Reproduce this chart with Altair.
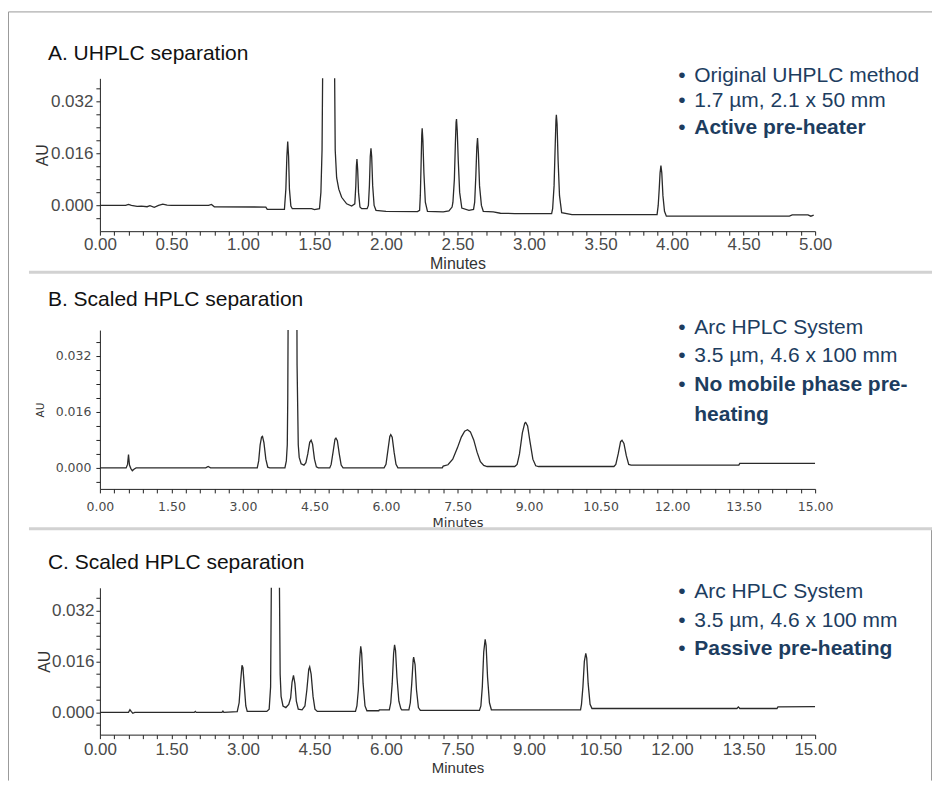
import altair as alt
import pandas as pd

# ---------------- data ----------------
panel_titles = ["A. UHPLC separation", "B. Scaled HPLC separation", "C. Scaled HPLC separation"]

a_notes = ["Original UHPLC method", "1.7 µm, 2.1 x 50 mm"]
a_bold = ["Active pre-heater"]
b_notes = ["Arc HPLC System", "3.5 µm, 4.6 x 100 mm"]
b_bold = ["No mobile phase pre-", "heating"]
c_notes = ["Arc HPLC System", "3.5 µm, 4.6 x 100 mm"]
c_bold = ["Passive pre-heating"]

# (minutes, AU)
a_trace = [
    (0.00, 0.0000), (0.18, 0.0000), (0.20, 0.0003), (0.22, 0.0000), (0.26, -0.0003), (0.29, -0.0002),
    (0.33, -0.0004), (0.35, -0.0001), (0.38, -0.0006), (0.41, 0.0000), (0.44, 0.0004), (0.47, 0.0001),
    (0.50, 0.0000), (0.76, 0.0000), (0.78, 0.0003), (0.80, -0.0004), (1.16, -0.0005), (1.17, -0.0012),
    (1.29, -0.0012), (1.300, 0.005), (1.307, 0.015), (1.313, 0.0196), (1.319, 0.015), (1.325, 0.005),
    (1.335, -0.0002), (1.345, -0.0010), (1.48, -0.0010), (1.50, -0.0013), (1.535, -0.0010),
    (1.545, 0.004), (1.553, 0.017), (1.558, 0.045), (1.60, 0.060), (1.640, 0.045), (1.645, 0.017),
    (1.655, 0.0085), (1.67, 0.0050), (1.69, 0.0025), (1.725, 0.0005), (1.76, -0.0002),
    (1.782, 0.0005), (1.789, 0.006), (1.793, 0.012), (1.797, 0.0142), (1.802, 0.011), (1.808, 0.004),
    (1.818, -0.0005), (1.83, -0.0010), (1.868, -0.0010),
    (1.877, 0.000), (1.884, 0.006), (1.890, 0.015), (1.895, 0.0175), (1.900, 0.015), (1.907, 0.006),
    (1.917, 0.0000), (1.93, -0.0015), (2.00, -0.0018), (2.22, -0.0019), (2.235, -0.0015),
    (2.240, 0.003), (2.245, 0.012), (2.250, 0.0215), (2.253, 0.0237), (2.258, 0.020), (2.265, 0.010),
    (2.275, 0.001), (2.29, -0.0018), (2.40, -0.0020), (2.44, -0.0017), (2.462, -0.0005),
    (2.468, 0.001), (2.478, 0.008), (2.485, 0.019), (2.490, 0.0255), (2.493, 0.0265), (2.498, 0.023),
    (2.505, 0.014), (2.515, 0.004), (2.53, -0.0008), (2.58, -0.0015), (2.612, -0.0012),
    (2.620, 0.001), (2.628, 0.009), (2.635, 0.018), (2.640, 0.0207), (2.646, 0.016), (2.654, 0.006),
    (2.667, 0.000), (2.68, -0.0018), (2.75, -0.0020), (2.80, -0.0024), (2.90, -0.0025), (3.158, -0.0025),
    (3.165, -0.001), (3.175, 0.006), (3.182, 0.017), (3.188, 0.026), (3.191, 0.0278), (3.196, 0.025),
    (3.203, 0.014), (3.213, 0.003), (3.228, -0.0022), (3.30, -0.0028), (3.895, -0.0028),
    (3.903, 0.000), (3.910, 0.005), (3.916, 0.010), (3.922, 0.0122), (3.928, 0.010), (3.936, 0.003),
    (3.947, -0.0018), (3.96, -0.0033), (4.82, -0.0033), (4.84, -0.0029), (4.95, -0.0029),
    (4.97, -0.0033), (4.99, -0.0030),
]

b_trace = [
    (0.00, 0.0000), (0.55, 0.0000), (0.58, 0.0010), (0.60, 0.0038), (0.62, 0.0008), (0.65, -0.0002),
    (0.68, -0.0008), (0.72, -0.0003), (0.76, 0.0000), (2.22, 0.0000), (2.27, 0.0004), (2.32, 0.0000),
    (3.30, 0.0000), (3.33, 0.0020), (3.36, 0.0065), (3.39, 0.0088), (3.41, 0.0090), (3.44, 0.0072),
    (3.48, 0.0025), (3.52, 0.0002), (3.56, 0.0000), (3.88, 0.0000),
    (3.91, 0.0020), (3.93, 0.0066), (3.94, 0.0200), (3.95, 0.0500), (4.04, 0.0650), (4.13, 0.0500),
    (4.135, 0.0295), (4.16, 0.0066), (4.18, 0.0030), (4.22, 0.0012), (4.28, 0.0008), (4.32, 0.0015),
    (4.36, 0.0040), (4.40, 0.0073), (4.43, 0.0079), (4.46, 0.0068), (4.50, 0.0025), (4.54, 0.0003),
    (4.58, 0.0000), (4.82, 0.0000),
    (4.85, 0.0010), (4.89, 0.0045), (4.93, 0.0082), (4.95, 0.0085), (4.98, 0.0078), (5.02, 0.0040),
    (5.06, 0.0008), (5.10, 0.0000), (5.96, 0.0000),
    (6.00, 0.0010), (6.04, 0.0050), (6.08, 0.0090), (6.10, 0.0095), (6.13, 0.0088), (6.17, 0.0045),
    (6.21, 0.0010), (6.25, 0.0000), (7.18, 0.0000), (7.20, 0.0005),
    (7.30, 0.0009), (7.40, 0.0025), (7.50, 0.0058), (7.58, 0.0088), (7.65, 0.0105), (7.71, 0.0109),
    (7.77, 0.0103), (7.84, 0.0080), (7.91, 0.0045), (7.98, 0.0018), (8.05, 0.0007), (8.12, 0.0004),
    (8.70, 0.0004),
    (8.75, 0.0010), (8.80, 0.0040), (8.86, 0.0100), (8.91, 0.0128), (8.93, 0.0130), (8.97, 0.0120),
    (9.02, 0.0075), (9.08, 0.0025), (9.14, 0.0006), (9.20, 0.0004), (10.78, 0.0004),
    (10.82, 0.0010), (10.87, 0.0040), (10.92, 0.0075), (10.95, 0.0079), (10.99, 0.0070), (11.04, 0.0035),
    (11.09, 0.0010), (11.14, 0.0008), (13.40, 0.0008), (13.42, 0.0013), (15.00, 0.0013),
]

c_trace = [
    (0.00, 0.0000), (0.60, 0.0000), (0.63, 0.0008), (0.66, 0.0002), (0.69, -0.0003), (0.73, 0.0000),
    (1.98, 0.0000), (2.00, 0.0003), (2.02, 0.0000), (2.56, 0.0000), (2.58, 0.0004), (2.60, 0.0000),
    (2.88, 0.0002), (2.92, 0.0030), (2.95, 0.0095), (2.98, 0.0148), (3.00, 0.0140), (3.03, 0.0080),
    (3.06, 0.0020), (3.09, 0.0003), (3.50, 0.0003),
    (3.55, 0.0010), (3.58, 0.0080), (3.60, 0.0500), (3.68, 0.0600), (3.76, 0.0500), (3.78, 0.0120),
    (3.80, 0.0050), (3.84, 0.0020), (3.90, 0.0015), (3.96, 0.0025),
    (4.00, 0.0045), (4.03, 0.0095), (4.06, 0.0116), (4.09, 0.0090), (4.12, 0.0035), (4.16, 0.0010),
    (4.24, 0.0008),
    (4.30, 0.0020), (4.34, 0.0070), (4.38, 0.0135), (4.40, 0.0143), (4.43, 0.0120), (4.47, 0.0050),
    (4.51, 0.0010), (4.56, 0.0003), (5.36, 0.0003),
    (5.39, 0.0020), (5.42, 0.0070), (5.45, 0.0170), (5.47, 0.0207), (5.49, 0.0185), (5.52, 0.0090),
    (5.56, 0.0020), (5.60, 0.0005), (5.85, 0.0005), (5.86, 0.0008), (6.07, 0.0008),
    (6.10, 0.0030), (6.13, 0.0090), (6.16, 0.0185), (6.18, 0.0212), (6.20, 0.0195), (6.23, 0.0110),
    (6.27, 0.0035), (6.31, 0.0012), (6.33, 0.0008), (6.48, 0.0008),
    (6.51, 0.0030), (6.54, 0.0090), (6.57, 0.0165), (6.58, 0.0173), (6.61, 0.0150), (6.64, 0.0070),
    (6.68, 0.0015), (6.72, 0.0006), (7.96, 0.0006),
    (7.99, 0.0020), (8.02, 0.0080), (8.05, 0.0190), (8.08, 0.0229), (8.10, 0.0210), (8.13, 0.0110),
    (8.17, 0.0030), (8.21, 0.0008), (10.08, 0.0008),
    (10.10, 0.0025), (10.13, 0.0080), (10.16, 0.0160), (10.19, 0.0185), (10.21, 0.0170), (10.24, 0.0090),
    (10.28, 0.0025), (10.32, 0.0012), (13.36, 0.0012), (13.39, 0.0017), (13.42, 0.0012), (14.20, 0.0012),
    (14.22, 0.0017), (15.00, 0.0018),
]

a_xticks = [round(i * 0.1, 2) for i in range(51)]      # labels every 0.50
bc_xticks = [round(i * 0.3, 2) for i in range(51)]     # labels every 1.50
y_ticks = [round(-0.004 + i * 0.004, 3) for i in range(11)]  # labels every 0.016

# ---------------- styling ----------------
W = 716
NOTE_COLOR = "#1d3d5f"
SANS = "Liberation Sans"
WIDE = "DejaVu Sans"
ONE = pd.DataFrame({"k": [0]})
RIGHT = 833  # right end of frame/separators, relative to the plot origin


def text_layer(txt, x, y, size, color, weight="normal", font=SANS, align="left", baseline="middle"):
    return alt.Chart(pd.DataFrame({"t": [txt]})).mark_text(
        align=align, baseline=baseline, font=font, fontSize=size, color=color, fontWeight=weight
    ).encode(x=alt.value(x), y=alt.value(y), text="t:N")


def panel(trace, xmax, xticks, xmajor, ydom, h, title, title_y, notes, bold, note_ys,
          lab_font, lab_size, x_lab_pad, y_lab_pad, xt_size, xt_y, au_size, au_x, extra=None):
    df = pd.DataFrame(trace, columns=["t", "au"])
    x_expr = (f"abs(datum.value/{xmajor} - round(datum.value/{xmajor})) < 0.001 ? "
              f"format(datum.value, '.2f') : ''")
    y_expr = ("abs(datum.value/0.016 - round(datum.value/0.016)) < 0.001 ? "
              "format(datum.value, '.3f') : ''")
    line = alt.Chart(df).mark_line(clip=True, color="#2a2a2a", strokeWidth=1.3).encode(
        x=alt.X("t:Q", scale=alt.Scale(domain=[0, xmax], nice=False, zero=False),
                axis=alt.Axis(values=xticks, labelExpr=x_expr, title="Minutes", grid=False,
                              domainColor="#222", tickColor="#222", tickSize=4, tickWidth=1,
                              labelFont=lab_font, labelFontSize=lab_size, labelColor="#4a4a4a",
                              labelBaseline="alphabetic", labelPadding=x_lab_pad,
                              labelOverlap=False, labelFlush=False,
                              titleFont=lab_font, titleFontSize=xt_size, titleFontWeight="normal",
                              titleColor="#333", titleBaseline="alphabetic", titleY=xt_y)),
        y=alt.Y("au:Q", scale=alt.Scale(domain=ydom, nice=False, zero=False),
                axis=alt.Axis(values=y_ticks, labelExpr=y_expr, title="AU", grid=False,
                              domainColor="#222", tickColor="#222", tickSize=4, tickWidth=1,
                              labelFont=lab_font, labelFontSize=lab_size, labelColor="#4a4a4a",
                              labelBaseline="middle", labelPadding=y_lab_pad,
                              labelOverlap=False, labelFlush=False,
                              titleFont=lab_font, titleFontSize=au_size, titleFontWeight="normal",
                              titleColor="#333", titleAngle=270, titleAlign="center",
                              titleBaseline="middle", titleX=au_x, titleY=h / 2)),
    )
    layers = [line, text_layer(title, -52, title_y, 21, "#111", baseline="alphabetic")]
    lines = [(n, "normal") for n in notes] + [(b, "bold") for b in bold]
    for (txt, wt), yy in zip(lines, note_ys):
        if txt != "heating":
            layers.append(text_layer("•", 579, yy, 21, NOTE_COLOR))
        layers.append(text_layer(txt, 595, yy, 21, NOTE_COLOR, weight=wt))
    if extra:
        layers.extend(extra)
    return alt.layer(*layers).properties(width=W, height=h)


# frame + separators (decoration, pixel offsets relative to panel A / B plot origins)
frame_a = [
    alt.Chart(ONE).mark_rule(color="#9a9a9a", strokeWidth=1).encode(
        x=alt.value(-91.5), x2=alt.value(RIGHT), y=alt.value(-66.5)),
    alt.Chart(ONE).mark_rule(color="#9a9a9a", strokeWidth=1).encode(
        x=alt.value(-91.5), y=alt.value(-66.5), y2=alt.value(703)),
    alt.Chart(ONE).mark_rule(color="#9a9a9a", strokeWidth=1).encode(
        x=alt.value(RIGHT - 0.5), y=alt.value(450), y2=alt.value(703)),
    alt.Chart(ONE).mark_rule(color="#d2d2d2", strokeWidth=3).encode(
        x=alt.value(-71), x2=alt.value(RIGHT), y=alt.value(194)),
]
frame_b = [
    alt.Chart(ONE).mark_rule(color="#d2d2d2", strokeWidth=3).encode(
        x=alt.value(-71), x2=alt.value(RIGHT), y=alt.value(199)),
]

pa = panel(a_trace, 5, a_xticks, 0.5, [-0.0079, 0.0390], 153, panel_titles[0], -18.5,
           a_notes, a_bold, [-2.5, 23, 49.5],
           SANS, 17, 14, 3, 16, 37, 16, -57, extra=frame_a)
pb = panel(b_trace, 15, bc_xticks, 1.5, [-0.0060, 0.0394], 159, panel_titles[1], -24.5,
           b_notes, b_bold, [-1.7, 26, 55, 85],
           WIDE, 12.5, 17.5, 5, 13, 38, 10.5, -59, extra=frame_b)
pc = panel(c_trace, 15, bc_xticks, 1.5, [-0.0070, 0.0391], 147, panel_titles[2], -18.5,
           c_notes, c_bold, [4.7, 33, 61.3],
           SANS, 17, 16, 2, 15, 38, 16, -55)

chart = alt.vconcat(pa, pb, pc, spacing=99, bounds="flush").properties(
    padding={"left": 0, "top": 3, "right": 0, "bottom": 0}, background="white"
).configure_view(stroke=None)

chart.save("out.html", embed_options={"renderer": "svg", "actions": False})
